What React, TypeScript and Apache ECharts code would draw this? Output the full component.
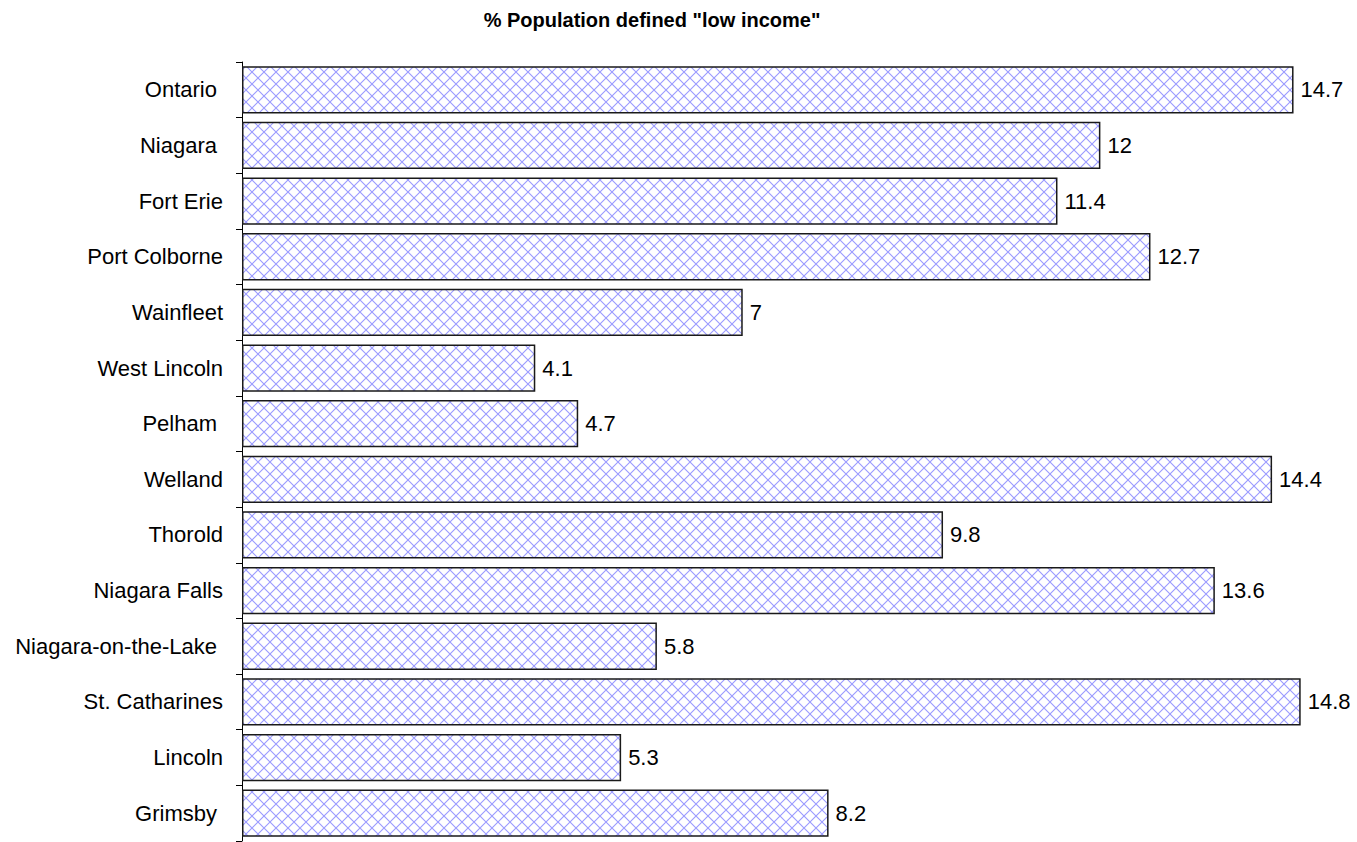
import React, { useEffect, useRef } from "react";
import * as echarts from "echarts";

const titleText = '% Population defined "low income"';
const categories = [
  "Ontario",
  "Niagara",
  "Fort Erie",
  "Port Colborne",
  "Wainfleet",
  "West Lincoln",
  "Pelham",
  "Welland",
  "Thorold",
  "Niagara Falls",
  "Niagara-on-the-Lake",
  "St. Catharines",
  "Lincoln",
  "Grimsby",
];
const values = [14.7, 12, 11.4, 12.7, 7, 4.1, 4.7, 14.4, 9.8, 13.6, 5.8, 14.8, 5.3, 8.2];
// labels that carry a little extra room before the axis
const paddedLabels = ["Ontario", "Niagara", "Pelham", "Niagara-on-the-Lake", "Grimsby"];

const FONT = "Arial, 'Liberation Sans', sans-serif";

const hatchSvg =
  "data:image/svg+xml;utf8," +
  encodeURIComponent(
    '<svg xmlns="http://www.w3.org/2000/svg" width="12" height="12">' +
      '<rect width="12" height="12" fill="#ffffff"/>' +
      '<path d="M0 0L12 12M12 0L0 12M-1 11L1 13M11 -1L13 1" stroke="#9a9aff" stroke-width="1.1" fill="none"/>' +
      "</svg>"
  );

export default function App() {
  const ref = useRef<HTMLDivElement>(null);

  useEffect(() => {
    if (!ref.current) return;
    const chart = echarts.init(ref.current, null, { renderer: "svg" });
    chart.setOption({
      animation: false,
      backgroundColor: "#ffffff",
      title: {
        text: titleText,
        left: 647,
        top: 5,
        textAlign: "center",
        textStyle: { fontFamily: FONT, fontSize: 20, fontWeight: "bold", color: "#000" },
      },
      grid: { left: 242, top: 62, width: 1073, height: 779 },
      xAxis: {
        type: "value",
        min: 0,
        max: 15,
        show: false,
      },
      yAxis: {
        type: "category",
        data: categories,
        inverse: true,
        axisLine: { show: true, lineStyle: { color: "#000", width: 1 } },
        axisTick: { show: true, length: 6, lineStyle: { color: "#000", width: 1 } },
        axisLabel: {
          margin: 19,
          fontFamily: FONT,
          fontSize: 22,
          color: "#000",
          formatter: (v: string) => (paddedLabels.includes(v) ? `{p|${v}}` : v),
          rich: {
            p: { fontFamily: FONT, fontSize: 22, color: "#000", padding: [0, 6, 0, 0] },
          },
        },
        splitLine: { show: false },
      },
      series: [
        {
          type: "bar",
          data: values,
          barCategoryGap: "15%",
          itemStyle: {
            color: {
              image: hatchSvg,
              imageWidth: 12,
              imageHeight: 12,
              repeat: "repeat",
            },
            borderColor: "#1a1a1a",
            borderWidth: 1.5,
          },
          label: {
            show: true,
            position: "right",
            distance: 7,
            fontFamily: FONT,
            fontSize: 22,
            color: "#000",
          },
        },
      ],
    });
    return () => chart.dispose();
  }, []);

  return (
    <div
      ref={ref}
      style={{ position: "absolute", left: 0, top: 0, width: 1350, height: 842, overflow: "hidden" }}
    />
  );
}
